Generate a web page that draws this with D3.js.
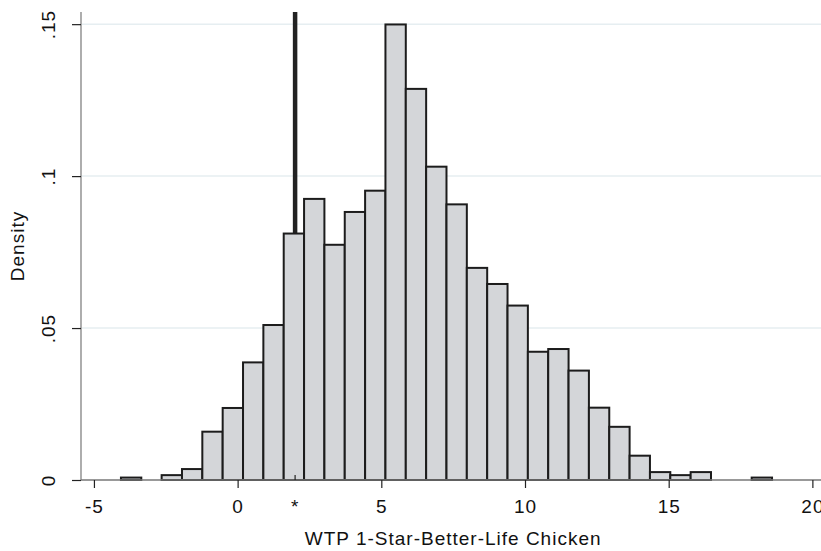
<!DOCTYPE html>
<html>
<head>
<meta charset="utf-8">
<script src="https://cdn.jsdelivr.net/npm/d3@7"></script>
<style>
	body { margin: 0; background: #fff; }
	svg { display: block; font-family: "Liberation Sans", Arial, Helvetica, sans-serif; }
	.axis text { font-size: 19px; letter-spacing: 1px; fill: #111; }
	.axis-label { font-size: 19px; letter-spacing: 1px; fill: #111; }
</style>
</head>
<body>
<svg width="821" height="551"></svg>
<script>
// histogram: 32 bins, first edge and width
const binStart = -4.06;
const binWidth = 0.708;
const densities = [
	0.0008, 0, 0.0016, 0.0036, 0.0159, 0.0237, 0.0387, 0.0510,
	0.0811, 0.0925, 0.0774, 0.0882, 0.0952, 0.1499, 0.1287, 0.1031,
	0.0907, 0.0698, 0.0645, 0.0574, 0.0422, 0.0431, 0.0360, 0.0238,
	0.0175, 0.0080, 0.0026, 0.0016, 0.0026, 0, 0, 0.0008
];

const xTicks = [-5, 0, 5, 10, 15, 20];
const yTicks = [0, 0.05, 0.1, 0.15];
const yTickLabels = ["0", ".05", ".1", ".15"];
const markerValue = 2;      // vertical reference line + "*" tick
const markerLabel = "*";

const xTitle = "WTP 1-Star-Better-Life Chicken";
const yTitle = "Density";

class histogram {
	constructor() {
		this.svg = d3.select("svg");
		this.left = 81;
		this.right = 821;
		this.top = 12;
		this.bottom = 480;

		this.x = d3.scaleLinear().domain([-5.45, 20.3]).range([this.left, this.right]);
		this.y = d3.scaleLinear().domain([0, 0.154]).range([this.bottom, this.top]);
	}

	draw() {
		const x = this.x, y = this.y;

		// grid
		this.svg.append("g")
			.selectAll("line")
			.data(yTicks.filter(d => d > 0))
			.join("line")
			.attr("x1", this.left + 1)
			.attr("x2", this.right)
			.attr("y1", d => y(d))
			.attr("y2", d => y(d))
			.attr("stroke", "#e6eef1")
			.attr("stroke-width", 1.5);

		// reference line, drawn behind the bars
		this.svg.append("line")
			.attr("x1", x(markerValue))
			.attr("x2", x(markerValue))
			.attr("y1", this.top)
			.attr("y2", this.bottom)
			.attr("stroke", "#222")
			.attr("stroke-width", 4.5);

		const bins = densities.map((d, i) => ({
			x0: binStart + i * binWidth,
			x1: binStart + (i + 1) * binWidth,
			density: d
		})).filter(b => b.density > 0);

		this.svg.append("g")
			.selectAll("rect")
			.data(bins)
			.join("rect")
			.attr("x", d => x(d.x0))
			.attr("width", d => x(d.x1) - x(d.x0))
			.attr("y", d => y(d.density))
			.attr("height", d => y(0) - y(d.density))
			.attr("fill", "#d4d6d9")
			.attr("stroke", "#1c1c1c")
			.attr("stroke-width", 2);

		// y axis
		const gY = this.svg.append("g")
			.attr("class", "axis axis--y")
			.attr("transform", `translate(${this.left},0)`)
			.call(d3.axisLeft(y)
				.tickValues(yTicks)
				.tickSize(9)
				.tickFormat((d, i) => yTickLabels[i]));
		gY.select(".domain")
			.attr("d", `M0,${this.top}V${this.bottom}`)
			.attr("stroke", "#777").attr("stroke-width", 1.2);
		gY.selectAll(".tick line").attr("stroke", "#222").attr("stroke-width", 1.2);
		gY.selectAll(".tick text")
			.attr("x", null).attr("dy", null)
			.attr("text-anchor", "middle")
			.attr("transform", "translate(-26,0) rotate(-90)");

		// x axis (plain hyphen for negatives, like the original)
		const gX = this.svg.append("g")
			.attr("class", "axis axis--x")
			.attr("transform", `translate(0,${this.bottom})`)
			.call(d3.axisBottom(x)
				.tickValues(xTicks)
				.tickSize(8)
				.tickPadding(10)
				.tickFormat(d => String(d)));
		gX.select(".domain")
			.attr("d", `M${this.left},0H${this.right}`)
			.attr("stroke", "#777").attr("stroke-width", 1.5);
		gX.selectAll(".tick line").attr("stroke", "#222").attr("stroke-width", 1.2);
		gX.selectAll(".tick text").attr("dy", null).attr("y", 33);

		const mark = gX.append("g")
			.attr("transform", `translate(${x(markerValue)},0)`);
		mark.append("line")
			.attr("y1", -5).attr("y2", 0)
			.attr("stroke", "#222").attr("stroke-width", 1.2);
		mark.append("text")
			.attr("y", 33)
			.attr("text-anchor", "middle")
			.attr("fill", "#111")
			.text(markerLabel);

		// titles
		this.svg.append("text")
			.attr("class", "axis-label")
			.attr("text-anchor", "middle")
			.attr("x", (x(-5) + x(20)) / 2)
			.attr("y", 545)
			.text(xTitle);

		this.svg.append("text")
			.attr("class", "axis-label")
			.attr("text-anchor", "middle")
			.attr("transform", `translate(24,${(this.top + this.bottom) / 2}) rotate(-90)`)
			.text(yTitle);
	}
}

window.addEventListener("load", () => {
	const h = new histogram();
	h.draw();
});
</script>
</body>
</html>
